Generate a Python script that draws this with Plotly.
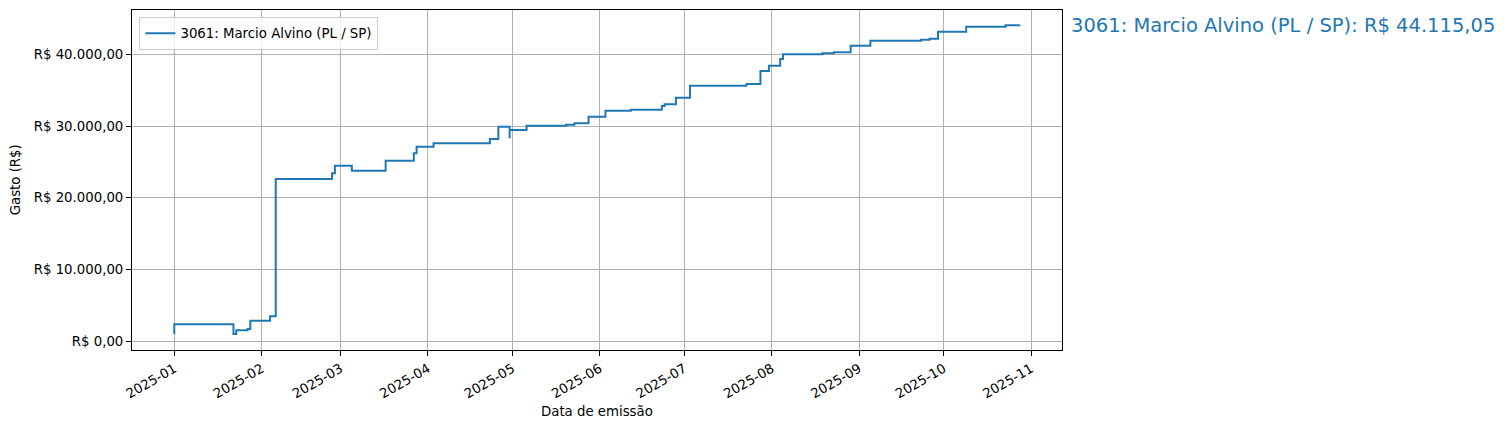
import plotly.graph_objects as go

# Step data (cumulative spending)
dates = [
    "2025-01-01", "2025-01-01", "2025-01-22", "2025-01-23", "2025-01-27",
    "2025-01-28", "2025-01-28", "2025-02-04", "2025-02-04", "2025-02-06",
    "2025-02-26", "2025-02-27", "2025-03-05", "2025-03-17", "2025-03-17",
    "2025-03-27", "2025-03-28", "2025-04-03", "2025-04-23", "2025-04-26",
    "2025-04-26", "2025-04-30", "2025-04-30", "2025-05-06", "2025-05-20",
    "2025-05-23", "2025-05-28", "2025-06-03", "2025-06-12", "2025-06-23",
    "2025-06-24", "2025-06-28", "2025-07-03", "2025-07-23", "2025-07-28",
    "2025-07-31", "2025-08-04", "2025-08-05", "2025-08-19", "2025-08-23",
    "2025-08-29", "2025-09-05", "2025-09-23", "2025-09-26", "2025-09-29",
    "2025-10-09", "2025-10-23", "2025-10-28",
]
gasto = [
    978, 2332, 978, 1494, 1676,
    1816, 2835, 3073, 3450, 22626,
    23422, 24483, 23785, 25042, 25182,
    26215, 27137, 27612, 28212, 28394,
    29930, 28310, 29469, 30070, 30209,
    30405, 31327, 32165, 32304, 32821,
    33059, 33980, 35656, 35894, 37709,
    38450, 39385, 40042, 40182, 40321,
    41243, 41941, 42081, 42221, 43198,
    43897, 44100, 44115.05,
]

serie_nome = "3061: Marcio Alvino (PL / SP)"
total_texto = "3061: Marcio Alvino (PL / SP): R$ 44.115,05"

x_tick_vals = ["2025-01-01", "2025-02-01", "2025-03-01", "2025-04-01", "2025-05-01",
               "2025-06-01", "2025-07-01", "2025-08-01", "2025-09-01", "2025-10-01",
               "2025-11-01"]
x_tick_text = ["2025-01", "2025-02", "2025-03", "2025-04", "2025-05", "2025-06",
               "2025-07", "2025-08", "2025-09", "2025-10", "2025-11"]
y_tick_vals = [0, 10000, 20000, 30000, 40000]
y_tick_text = ["R$ 0,00", "R$ 10.000,00", "R$ 20.000,00", "R$ 30.000,00", "R$ 40.000,00"]

BLUE = "#1f77b4"
FONT = "DejaVu Sans"
FS = 13.3

fig = go.Figure()
fig.add_trace(go.Scatter(
    x=dates, y=gasto, mode="lines", name=serie_nome,
    line=dict(color=BLUE, width=2, shape="hv"),
))

# page body has an 8px default margin; figure is sized/offset to compensate
fig.update_layout(
    width=1496, height=422,
    margin=dict(l=124, r=442, t=2, b=80),
    paper_bgcolor="white", plot_bgcolor="white",
    font=dict(family=FONT, size=FS, color="black"),
    showlegend=True,
    legend=dict(
        x=0.008, y=0.979, xanchor="left", yanchor="top",
        bgcolor="rgba(255,255,255,0.8)", bordercolor="#cccccc", borderwidth=1,
        font=dict(family=FONT, size=FS, color="black"),
    ),
)

fig.update_xaxes(
    type="date", range=["2024-12-17", "2025-11-12"],
    tickvals=x_tick_vals, ticktext=x_tick_text, tickangle=-30,
    showgrid=True, gridcolor="#b0b0b0", gridwidth=1,
    showline=True, linecolor="black", linewidth=1, mirror=True,
    ticks="outside", ticklen=5, tickwidth=1, tickcolor="black",
    zeroline=False, tickfont=dict(family=FONT, size=FS, color="black"),
)
fig.update_yaxes(
    range=[-1257, 46229],
    tickvals=y_tick_vals, ticktext=y_tick_text,
    showgrid=True, gridcolor="#b0b0b0", gridwidth=1,
    showline=True, linecolor="black", linewidth=1, mirror=True,
    ticks="outside", ticklen=5, tickwidth=1, tickcolor="black",
    zeroline=False, tickfont=dict(family=FONT, size=FS, color="black"),
)

fig.add_annotation(
    text=total_texto, xref="paper", yref="y", x=1.0075, y=gasto[-1],
    xanchor="left", yanchor="middle", showarrow=False,
    font=dict(family=FONT, size=19.5, color=BLUE),
)
fig.add_annotation(
    text="Data de emissão", xref="paper", yref="paper", x=0.5, y=-0.182,
    xanchor="center", yanchor="middle", showarrow=False,
    font=dict(family=FONT, size=FS, color="black"),
)
fig.add_annotation(
    text="Gasto (R$)", xref="paper", yref="paper", x=-0.1255, y=0.5,
    xanchor="center", yanchor="middle", textangle=-90, showarrow=False,
    font=dict(family=FONT, size=FS, color="black"),
)

fig.write_html("out.html")
